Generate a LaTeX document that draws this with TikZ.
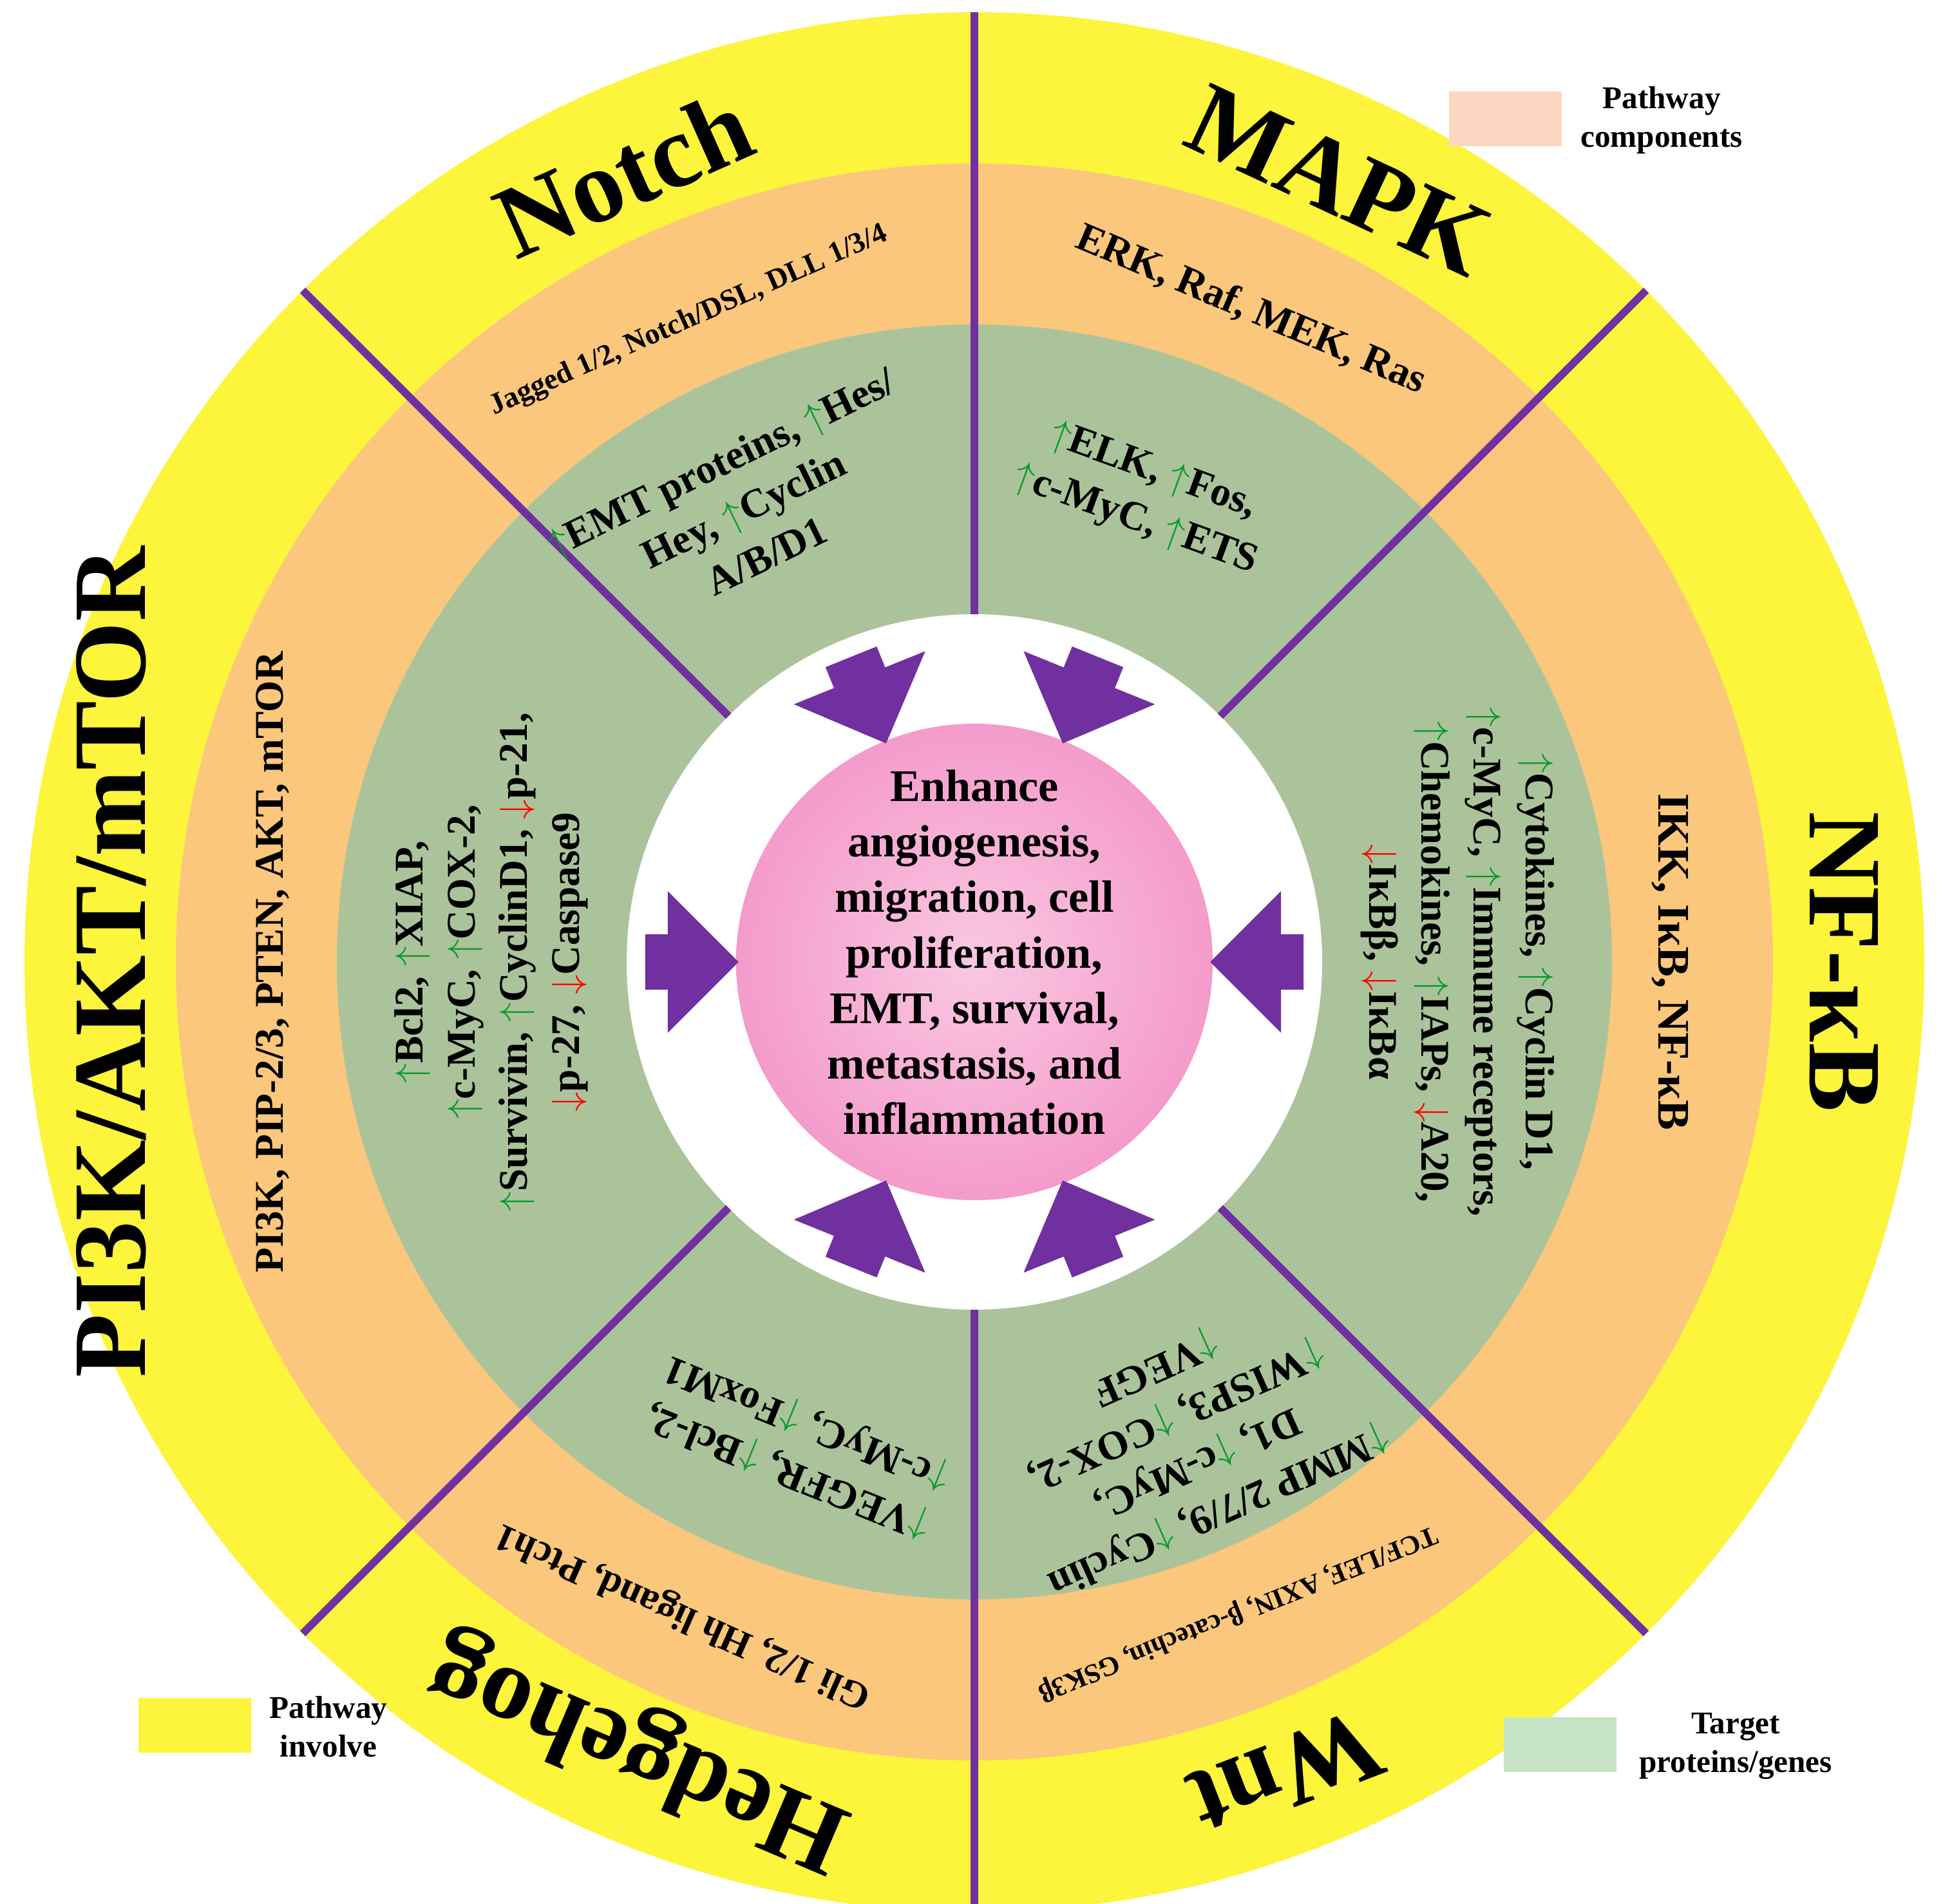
\documentclass[tikz,border=0pt]{standalone}
\usepackage{fontspec}
\setmainfont{Liberation Serif}
\usetikzlibrary{shapes.arrows,calc}
\definecolor{yel}{HTML}{FDF43C}
\definecolor{org}{HTML}{FAC77C}
\definecolor{grn}{HTML}{ABC39B}
\definecolor{pnk}{HTML}{F49BCB}
\definecolor{pur}{HTML}{7030A0}
\definecolor{lorg}{HTML}{FCD6C1}
\definecolor{lgrn}{HTML}{C6E3C3}
\definecolor{gup}{HTML}{0A9A2A}
\newcommand{\up}{{\color{gup}$\uparrow$}}
\newcommand{\dn}{{\color{red}$\downarrow$}}
\begin{document}
\begin{tikzpicture}[font=\bfseries,
  title/.style={font=\fontsize{46}{50}\selectfont\bfseries},
  comp/.style={font=\fontsize{17}{20}\selectfont\bfseries,align=center},
  targ/.style={font=\fontsize{18}{23}\selectfont\bfseries,align=center},
  sep/.style={pur,line width=3.4pt},
  barr/.style={single arrow,fill=pur,draw=none,minimum height=1.45cm,minimum width=2.2cm,single arrow head extend=0.45cm,single arrow head indent=0cm,inner sep=0.28cm},
  leg/.style={font=\fontsize{14}{17}\selectfont\bfseries,align=center}]
\useasboundingbox (0,0) rectangle (30.17,29.57);
\coordinate (c) at (15.13,14.63);
\fill[yel] (c) circle (14.75);
\fill[org] (c) circle (12.4);
\fill[grn] (c) circle (9.9);
\fill[white] (c) circle (5.4);
\shade[inner color=pnk!55!white,outer color=pnk] (c) circle (3.7);
\foreach \a in {45,90,135,225,270,315}
  \draw[sep] ($(c)+(\a:5.4)$) -- ($(c)+(\a:14.75)$);
% arrows
\foreach \a in {0,180,112,68,-112,-68}
  \node[barr,rotate=\a+180] (ar\a) at ($(c)+(\a:4.6)$) {};
\node[font=\fontsize{20}{24.5}\selectfont\bfseries,align=center] (ctr) at ($(c)+(0,0.15)$)
 {Enhance\\angiogenesis,\\migration, cell\\proliferation,\\EMT, survival,\\metastasis, and\\inflammation};
% titles
\node[title,rotate=24] (tN) at ($(c)+(114:13.4)$) {Notch};
\node[title,rotate=-25] (tM) at ($(c)+(65:13.4)$) {MAPK};
\node[title,rotate=90] (tP) at ($(c)+(180:13.4)$) {PI3K/AKT/mTOR};
\node[title,rotate=-90] (tF) at ($(c)+(0:13.5)$) {NF-κB};
\node[title,rotate=-159] (tW) at ($(c)+(-69:13.5)$) {Wnt};
\node[title,rotate=157] (tH) at ($(c)+(-113:13.3)$) {Hedgehog};
% components
\node[comp,font=\fontsize{13}{16}\selectfont\bfseries,rotate=24] (cN) at ($(c)+(114:10.9)$) {Jagged 1/2, Notch/DSL, DLL 1/3/4};
\node[comp,font=\fontsize{18}{21}\selectfont\bfseries,rotate=-23] (cM) at ($(c)+(67:11.0)$) {ERK, Raf, MEK, Ras};
\node[comp,font=\fontsize{18}{21}\selectfont\bfseries,rotate=90] (cP) at ($(c)+(180:10.9)$) {PI3K, PIP-2/3, PTEN, AKT, mTOR};
\node[comp,font=\fontsize{20}{23}\selectfont\bfseries,rotate=-90] (cF) at ($(c)+(0:10.8)$) {IKK, IκB, NF-κB};
\node[comp,font=\fontsize{12}{15}\selectfont\bfseries,rotate=-158] (cW) at ($(c)+(-68:10.9)$) {TCF/LEF, AXIN, β-catechin, GSK3β};
\node[comp,font=\fontsize{17}{20}\selectfont\bfseries,rotate=156] (cH) at ($(c)+(-114:11.1)$) {Gli 1/2, Hh ligand, Ptch1};
% targets
\node[targ,rotate=26] (gN) at ($(c)+(117:7.9)$) {\up EMT proteins, \up Hes/\\Hey, \up Cyclin\\A/B/D1};
\node[targ,rotate=-20] (gM) at ($(c)+(70:7.7)$) {\up ELK, \up Fos,\\\up c-MyC, \up ETS};
\node[targ,rotate=90] (gP) at ($(c)+(180:7.5)$) {\up Bcl2, \up XIAP,\\\up c-MyC, \up COX-2,\\\up Survivin, \up CyclinD1, \dn p-21,\\\dn p-27, \dn Caspase9};
\node[targ,rotate=-90] (gF) at ($(c)+(0:7.5)$) {\up Cytokines, \up Cyclin D1,\\\up c-MyC, \up Immune receptors,\\\up Chemokines, \up IAPs, \dn A20,\\\dn IκBβ, \dn IκBα};
\node[targ,rotate=-156] (gW) at ($(c)+(-66:8.1)$) {\up MMP 2/7/9, \up Cyclin\\D1, \up c-MyC,\\\up WISP3, \up COX-2,\\\up VEGF};
\node[targ,rotate=158] (gH) at ($(c)+(-110:8.0)$) {\up VEGFR, \up Bcl-2,\\\up c-MyC, \up FoxM1};
% legend
\fill[lorg] (22.5,27.3) rectangle (24.25,28.15);
\node[leg] (l1) at (25.8,27.7) {Pathway\\components};
\fill[yel] (2.15,2.35) rectangle (3.9,3.2);
\node[leg] (l2) at (5.1,2.75) {Pathway\\involve};
\fill[lgrn] (23.35,2.05) rectangle (25.1,2.9);
\node[leg] (l3) at (26.95,2.45) {Target\\proteins/genes};
\end{tikzpicture}
\end{document}
